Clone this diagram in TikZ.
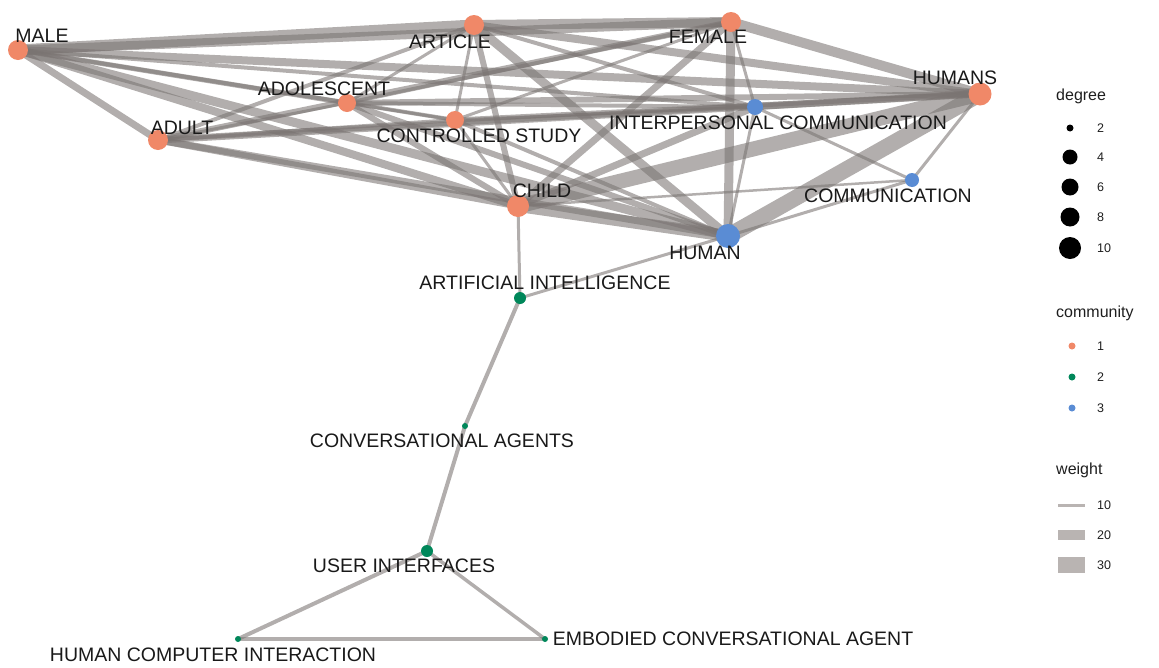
\documentclass[tikz,border=0pt]{standalone}
\usepackage{fontspec}
\setmainfont{Liberation Sans}
\begin{document}
\begin{tikzpicture}[x=1pt,y=-1pt,
  edge/.style={draw={rgb,255:red,122;green,116;blue,114}, draw opacity=0.58, line width=#1},
  vtx/.style={circle, inner sep=0pt, minimum size=#1},
  c1/.style={fill={rgb,255:red,240;green,136;blue,104}},
  c2/.style={fill={rgb,255:red,0;green,135;blue,90}},
  c3/.style={fill={rgb,255:red,90;green,140;blue,212}},
  lbl/.style={font=\fontsize{19.5}{21}\selectfont, text={rgb,255:red,25;green,25;blue,25}, inner sep=0pt},
  legt/.style={font=\fontsize{16}{18}\selectfont, anchor=west, inner sep=0pt, text={rgb,255:red,30;green,30;blue,30}},
  legn/.style={font=\fontsize{12.5}{14}\selectfont, anchor=west, inner sep=0pt, text={rgb,255:red,30;green,30;blue,30}},
  legbar/.style={fill={rgb,255:red,185;green,180;blue,178}, draw=none}
]
\useasboundingbox (0,0) rectangle (1159,667);

% vertex coordinates
\coordinate (M) at (18,50);
\coordinate (AR) at (474,25);
\coordinate (F) at (731,22);
\coordinate (HS) at (980,94);
\coordinate (ADO) at (347,103);
\coordinate (ADU) at (158,140);
\coordinate (CS) at (455,120);
\coordinate (IC) at (755,107);
\coordinate (C) at (912,180);
\coordinate (CH) at (518,206);
\coordinate (H) at (728,236);
\coordinate (AI) at (520,298);
\coordinate (CA) at (465,426);
\coordinate (UI) at (427,551);
\coordinate (HCI) at (238,639);
\coordinate (ECA) at (545,639);

% edges
\draw[edge=11pt] (M) -- (AR);
\draw[edge=9pt] (M) -- (F);
\draw[edge=8pt] (M) -- (HS);
\draw[edge=5pt] (M) -- (ADO);
\draw[edge=7pt] (M) -- (ADU);
\draw[edge=4pt] (M) -- (CS);
\draw[edge=8pt] (M) -- (CH);
\draw[edge=9pt] (M) -- (H);
\draw[edge=4pt] (M) -- (IC);
\draw[edge=10pt] (AR) -- (F);
\draw[edge=8pt] (AR) -- (HS);
\draw[edge=3pt] (AR) -- (ADO);
\draw[edge=4pt] (AR) -- (ADU);
\draw[edge=3pt] (AR) -- (CS);
\draw[edge=6pt] (AR) -- (CH);
\draw[edge=9pt] (AR) -- (H);
\draw[edge=4pt] (AR) -- (IC);
\draw[edge=10pt] (F) -- (HS);
\draw[edge=4pt] (F) -- (ADO);
\draw[edge=6pt] (F) -- (ADU);
\draw[edge=3pt] (F) -- (CS);
\draw[edge=7pt] (F) -- (CH);
\draw[edge=9pt] (F) -- (H);
\draw[edge=3pt] (F) -- (IC);
\draw[edge=6pt] (HS) -- (ADO);
\draw[edge=7pt] (HS) -- (ADU);
\draw[edge=5pt] (HS) -- (CS);
\draw[edge=15pt] (HS) -- (CH);
\draw[edge=16pt] (HS) -- (H);
\draw[edge=6pt] (HS) -- (IC);
\draw[edge=3pt] (HS) -- (C);
\draw[edge=3pt] (ADO) -- (ADU);
\draw[edge=3pt] (ADO) -- (CS);
\draw[edge=6pt] (ADO) -- (CH);
\draw[edge=6pt] (ADO) -- (H);
\draw[edge=4pt] (ADO) -- (IC);
\draw[edge=4pt] (ADU) -- (CS);
\draw[edge=7pt] (ADU) -- (CH);
\draw[edge=7pt] (ADU) -- (H);
\draw[edge=4pt] (ADU) -- (IC);
\draw[edge=3pt] (CS) -- (CH);
\draw[edge=4pt] (CS) -- (H);
\draw[edge=3pt] (CS) -- (IC);
\draw[edge=12pt] (CH) -- (H);
\draw[edge=7pt] (CH) -- (IC);
\draw[edge=2.5pt] (CH) -- (C);
\draw[edge=3pt] (H) -- (IC);
\draw[edge=3pt] (H) -- (C);
\draw[edge=3pt] (IC) -- (C);
\draw[edge=3pt] (CH) -- (AI);
\draw[edge=3pt] (H) -- (AI);
\draw[edge=4pt] (AI) -- (CA);
\draw[edge=4pt] (CA) -- (UI);
\draw[edge=4pt] (UI) -- (HCI);
\draw[edge=3.5pt] (UI) -- (ECA);
\draw[edge=4pt] (HCI) -- (ECA);

% vertices
\node[vtx=20pt,c1] (nM) at (M) {};
\node[vtx=20pt,c1] (nAR) at (AR) {};
\node[vtx=20pt,c1] (nF) at (F) {};
\node[vtx=23pt,c1] (nHS) at (HS) {};
\node[vtx=18pt,c1] (nADO) at (ADO) {};
\node[vtx=20pt,c1] (nADU) at (ADU) {};
\node[vtx=18pt,c1] (nCS) at (CS) {};
\node[vtx=16pt,c3] (nIC) at (IC) {};
\node[vtx=14pt,c3] (nC) at (C) {};
\node[vtx=22pt,c1] (nCH) at (CH) {};
\node[vtx=24pt,c3] (nH) at (H) {};
\node[vtx=12pt,c2] (nAI) at (AI) {};
\node[vtx=6pt,c2] (nCA) at (CA) {};
\node[vtx=12pt,c2] (nUI) at (UI) {};
\node[vtx=6pt,c2] (nHCI) at (HCI) {};
\node[vtx=6pt,c2] (nECA) at (ECA) {};

% labels
\node[lbl] (tM) at (42,36) {MALE};
\node[lbl] (tAR) at (450,42) {ARTICLE};
\node[lbl] (tF) at (708,37) {FEMALE};
\node[lbl] (tHS) at (955,78) {HUMANS};
\node[lbl] (tADO) at (324,89) {ADOLESCENT};
\node[lbl] (tADU) at (182,128) {ADULT};
\node[lbl] (tCS) at (479,136) {CONTROLLED STUDY};
\node[lbl] (tIC) at (778,123) {INTERPERSONAL COMMUNICATION};
\node[lbl] (tC) at (888,196) {COMMUNICATION};
\node[lbl] (tCH) at (542,191) {CHILD};
\node[lbl] (tH) at (705,253) {HUMAN};
\node[lbl] (tAI) at (545,283) {ARTIFICIAL INTELLIGENCE};
\node[lbl] (tCA) at (442,441) {CONVERSATIONAL AGENTS};
\node[lbl] (tUI) at (404,566) {USER INTERFACES};
\node[lbl] (tHCI) at (213,655) {HUMAN COMPUTER INTERACTION};
\node[lbl] (tECA) at (733,639) {EMBODIED CONVERSATIONAL AGENT};

% legend: degree
\node[legt] (Ldeg) at (1056,96) {degree};
\node[vtx=7pt,fill=black] (d2) at (1070,128) {};
\node[vtx=15pt,fill=black] (d4) at (1070,157) {};
\node[vtx=17pt,fill=black] (d6) at (1070,187) {};
\node[vtx=19pt,fill=black] (d8) at (1070,217) {};
\node[vtx=22pt,fill=black] (d10) at (1070,248) {};
\node[legn] at (1097,128) {2};
\node[legn] at (1097,157) {4};
\node[legn] at (1097,187) {6};
\node[legn] at (1097,217) {8};
\node[legn] at (1097,248) {10};

% legend: community
\node[legt] (Lcom) at (1056,313) {community};
\node[vtx=7pt,c1] (k1) at (1072,346) {};
\node[vtx=7pt,c2] (k2) at (1072,377) {};
\node[vtx=7pt,c3] (k3) at (1072,408) {};
\node[legn] at (1097,346) {1};
\node[legn] at (1097,377) {2};
\node[legn] at (1097,408) {3};

% legend: weight
\node[legt] (Lw) at (1056,470) {weight};
\fill[legbar] (1058,503.5) rectangle (1085,506.5);
\fill[legbar] (1058,530) rectangle (1085,540);
\fill[legbar] (1058,557) rectangle (1085,573);
\node[legn] at (1097,505) {10};
\node[legn] at (1097,535) {20};
\node[legn] at (1097,565) {30};
\end{tikzpicture}
\end{document}
